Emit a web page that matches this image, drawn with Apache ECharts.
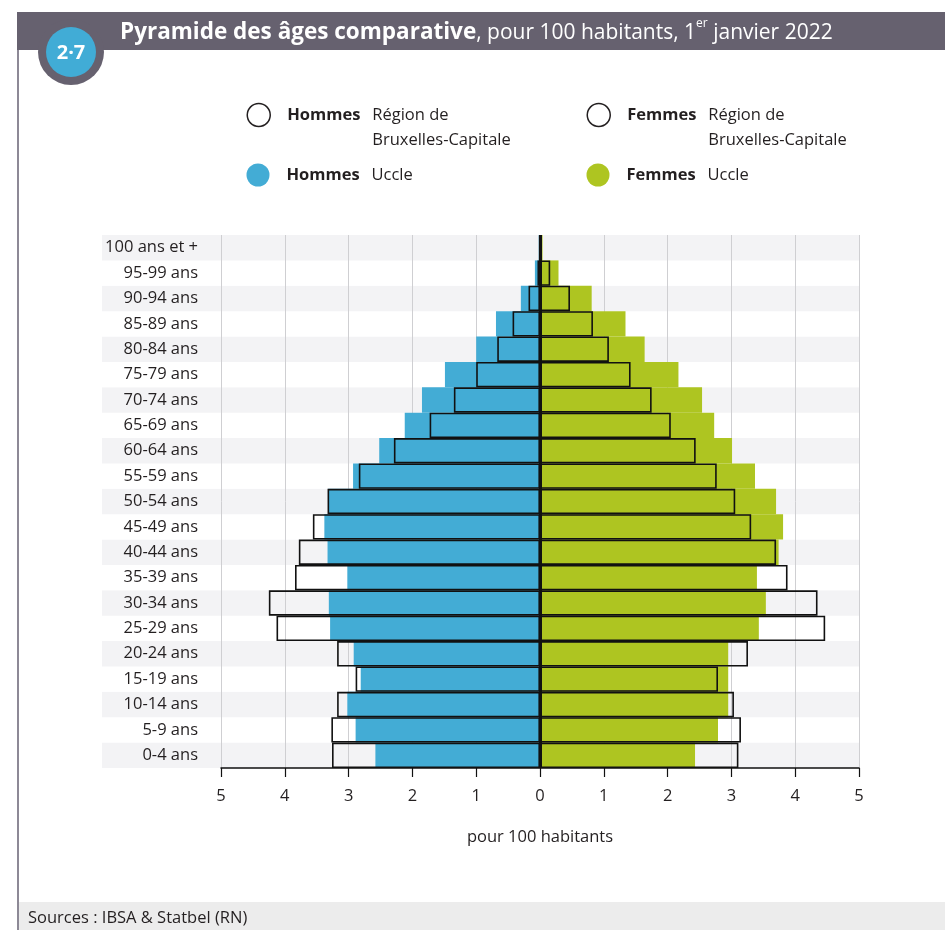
<!DOCTYPE html>
<html lang="fr">
<head>
<meta charset="utf-8">
<title>Pyramide des âges comparative</title>
<script src="https://cdn.jsdelivr.net/npm/echarts@6/dist/echarts.min.js"></script>
<style>
  html, body { margin: 0; padding: 0; background: #fff; }
  #chart { width: 945px; height: 930px; }
</style>
</head>
<body>
<div id="chart"></div>
<script>
// Tranches d'âge, de bas en haut
const ageGroups = [
  '0-4 ans', '5-9 ans', '10-14 ans', '15-19 ans', '20-24 ans', '25-29 ans',
  '30-34 ans', '35-39 ans', '40-44 ans', '45-49 ans', '50-54 ans', '55-59 ans',
  '60-64 ans', '65-69 ans', '70-74 ans', '75-79 ans', '80-84 ans', '85-89 ans',
  '90-94 ans', '95-99 ans', '100 ans et +'
]

// Pour 100 habitants
const menUccle = [2.58, 2.89, 3.02, 2.81, 2.92, 3.29, 3.31, 3.02, 3.33, 3.38, 3.32, 2.93, 2.52, 2.12, 1.85, 1.49, 1.00, 0.69, 0.30, 0.08, 0.02]
const womenUccle = [2.43, 2.79, 2.95, 2.95, 2.95, 3.43, 3.54, 3.40, 3.74, 3.81, 3.70, 3.37, 3.01, 2.73, 2.54, 2.17, 1.64, 1.34, 0.81, 0.29, 0.04]
const menBrussels = [3.26, 3.27, 3.18, 2.89, 3.18, 4.13, 4.25, 3.84, 3.78, 3.56, 3.33, 2.84, 2.29, 1.73, 1.35, 1.00, 0.67, 0.43, 0.18, 0.04, 0.01]
const womenBrussels = [3.11, 3.15, 3.04, 2.79, 3.26, 4.47, 4.35, 3.88, 3.70, 3.31, 3.06, 2.77, 2.44, 2.05, 1.75, 1.42, 1.08, 0.83, 0.47, 0.16, 0.02]

// Graduations de l'axe horizontal
const xTicks = [-5, -4, -3, -2, -1, 0, 1, 2, 3, 4, 5]

const BLUE = '#43acd5'
const GREEN = '#aec521'
const BAND = '#66616f'
const INK = '#231f20'
const FONT = '"Open Sans", "Noto Sans", sans-serif'
const TEXT_SIZE = 16.5

/**
 * Une légende par entrée (2 colonnes x 2 lignes)
 */
function makeLegend(name, left, top, boldWord, boldWidth, twoLines, itemStyle) {
  const text = twoLines
    ? `{g|}{b|${boldWord}}{r|Région de}\n{g|}{b|}{r|Bruxelles-Capitale}`
    : `{g|}{b|${boldWord}}{r|Uccle}`
  return {
    show: true,
    selectedMode: false,
    left: left,
    top: top,
    padding: 0,
    icon: 'circle',
    itemWidth: 23,
    itemHeight: 23,
    data: [{ name: name, itemStyle: itemStyle }],
    formatter: () => text,
    textStyle: {
      fontFamily: FONT,
      fontSize: TEXT_SIZE,
      color: INK,
      lineHeight: 25,
      padding: twoLines ? [25, 0, 0, 0] : 0,
      rich: {
        g: { width: 12 },
        b: { fontWeight: 'bold', width: boldWidth },
        r: {}
      }
    }
  }
}

const chart = echarts.init(document.getElementById('chart'), null, { renderer: 'canvas' })

const barBase = {
  type: 'bar',
  xAxisIndex: 1,
  yAxisIndex: 1,
  barWidth: '100%',
  barGap: '-100%',
  silent: true,
  animation: false
}

const outlineStyle = { color: 'rgba(0,0,0,0)', borderColor: '#111', borderWidth: 1.6 }

const option = {
  backgroundColor: '#fff',
  animation: false,
  legend: [
    makeLegend('Hommes Bruxelles', 246.5, 77.5, 'Hommes', 85, true,
      { color: '#fff', borderColor: INK, borderWidth: 1.5 }),
    makeLegend('Femmes Bruxelles', 586.5, 77.5, 'Femmes', 81, true,
      { color: '#fff', borderColor: INK, borderWidth: 1.5 }),
    makeLegend('Hommes Uccle', 246.5, 162.5, 'Hommes', 85, false, { color: BLUE }),
    makeLegend('Femmes Uccle', 586.5, 162.5, 'Femmes', 81, false, { color: GREEN })
  ],
  grid: [
    // bandes grises alternées (couvrent aussi les étiquettes)
    { left: 102, right: 86, top: 235, bottom: 162, outerBoundsMode: 'none' },
    // pyramide
    { left: 221, right: 86, top: 235, bottom: 162, outerBoundsMode: 'none' }
  ],
  xAxis: [
    { gridIndex: 0, type: 'value', min: 0, max: 1, show: false },
    {
      gridIndex: 1,
      type: 'value',
      min: xTicks[0],
      max: xTicks[xTicks.length - 1],
      interval: 1,
      name: 'pour 100 habitants',
      nameLocation: 'middle',
      nameGap: 61,
      nameTextStyle: { fontFamily: FONT, fontSize: TEXT_SIZE, color: INK },
      axisLine: { show: true, onZero: false, lineStyle: { color: '#111', width: 1.5 } },
      axisTick: { show: true, length: 9, lineStyle: { color: '#111', width: 1.2 } },
      axisLabel: {
        margin: 20,
        fontFamily: FONT,
        fontSize: TEXT_SIZE,
        color: INK,
        formatter: (v) => String(Math.abs(v))
      },
      splitLine: { show: true, lineStyle: { color: '#cfcfd2', width: 1 } }
    }
  ],
  yAxis: [
    {
      gridIndex: 0,
      type: 'category',
      data: ageGroups,
      axisLine: { show: false },
      axisTick: { show: false },
      axisLabel: { show: false },
      splitLine: { show: false },
      splitArea: { show: true, areaStyle: { color: ['#f3f3f5', '#ffffff'] } }
    },
    {
      gridIndex: 1,
      type: 'category',
      data: ageGroups,
      axisLine: { show: false },
      axisTick: { show: false },
      splitLine: { show: false },
      axisLabel: {
        margin: 23,
        interval: 0,
        fontFamily: FONT,
        fontSize: TEXT_SIZE,
        color: INK
      }
    }
  ],
  series: [
    { ...barBase, name: 'Hommes Uccle', data: menUccle.map(v => -v), itemStyle: { color: BLUE } },
    { ...barBase, name: 'Femmes Uccle', data: womenUccle, itemStyle: { color: GREEN } },
    { ...barBase, name: 'Hommes Bruxelles', data: menBrussels.map(v => -v), itemStyle: outlineStyle },
    {
      ...barBase,
      name: 'Femmes Bruxelles',
      data: womenBrussels,
      itemStyle: outlineStyle,
      // axe vertical au zéro
      markLine: {
        silent: true,
        symbol: 'none',
        label: { show: false },
        lineStyle: { color: '#111', width: 3, type: 'solid' },
        data: [{ xAxis: 0 }]
      }
    }
  ],
  graphic: [
    // bordure gauche
    { type: 'rect', shape: { x: 17, y: 12, width: 2, height: 918 }, style: { fill: '#8d8996' }, z: 100 },
    // bandeau du titre
    { type: 'rect', shape: { x: 17, y: 12, width: 928, height: 38 }, style: { fill: BAND }, z: 100 },
    { type: 'circle', shape: { cx: 71, cy: 52, r: 33 }, style: { fill: BAND }, z: 101 },
    { type: 'circle', shape: { cx: 71, cy: 52, r: 25 }, style: { fill: '#41acd6' }, z: 102 },
    {
      type: 'text', x: 71, y: 53, z: 103,
      style: {
        text: '2·7', fill: '#fff', align: 'center', verticalAlign: 'middle',
        font: 'bold 20px ' + FONT
      }
    },
    {
      type: 'text', x: 120, y: 33, z: 103,
      style: {
        text: '{b|Pyramide des âges comparative}{r|, pour 100 habitants, 1}{s|er}{r| janvier 2022}',
        verticalAlign: 'middle',
        rich: {
          b: { fontFamily: FONT, fontWeight: 'bold', fontSize: 22.5, fill: '#fff', lineHeight: 30 },
          r: { fontFamily: FONT, fontSize: 21, fill: '#fff', lineHeight: 30 },
          s: { fontFamily: FONT, fontSize: 12, fill: '#fff', lineHeight: 30, verticalAlign: 'top', padding: [0, 0, 10, 0] }
        }
      }
    },
    // pied de page
    { type: 'rect', shape: { x: 19, y: 902, width: 926, height: 28 }, style: { fill: '#ececec' }, z: 100 },
    {
      type: 'text', x: 28, y: 918, z: 101,
      style: {
        text: 'Sources : IBSA & Statbel (RN)', fill: INK, verticalAlign: 'middle',
        font: TEXT_SIZE + 'px ' + FONT
      }
    }
  ]
}

chart.setOption(option)
</script>
</body>
</html>
